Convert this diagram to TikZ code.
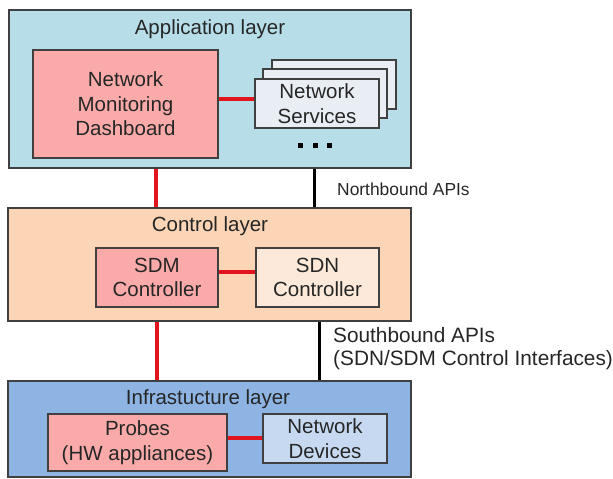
\documentclass[tikz,border=0pt]{standalone}
\usepackage{fontspec}
\setmainfont{Liberation Sans}
\begin{document}
\begin{tikzpicture}[x=1pt,y=-1pt,
  every node/.style={text=black!85, font=\fontsize{20.5}{24.5}\selectfont, inner sep=0pt, align=center},
  box/.style={draw=black!75, line width=1.3pt, rectangle},
  redlink/.style={draw={rgb,255:red,226;green,20;blue,30}, line width=3.8pt},
  blacklink/.style={draw=black, line width=3pt}
]
\definecolor{appfill}{HTML}{B7DEE8}
\definecolor{ctrlfill}{HTML}{FBD5B5}
\definecolor{infrafill}{HTML}{8EB4E3}
\definecolor{pinkfill}{HTML}{FBAAAA}
\definecolor{sdnfill}{HTML}{FDE9D9}
\definecolor{ndfill}{HTML}{C6D9F1}
\definecolor{nsfill}{HTML}{E9EEF5}
\useasboundingbox (0,0) rectangle (613,479);
% layers
\node[box, fill=appfill, minimum width=402pt, minimum height=158pt] (app) at (210,89) {};
\node[box, fill=ctrlfill, minimum width=403pt, minimum height=113pt] (ctrl) at (209.5,264.5) {};
\node[box, fill=infrafill, minimum width=403pt, minimum height=96pt] (infra) at (209.5,429) {};
\node (apptitle) at (210,29) {Application layer};
\node (ctrltitle) at (210,226) {Control layer};
\node (infratitle) at (208,399) {Infrastucture layer};
% application layer contents
\node[box, fill=pinkfill, minimum width=185pt, minimum height=108pt] (dash) at (125.5,104) {Network\\Monitoring\\Dashboard};
\node[box, fill=nsfill, minimum width=124pt, minimum height=49pt] (ns3) at (334,84.5) {};
\node[box, fill=nsfill, minimum width=124pt, minimum height=49pt] (ns2) at (325,93.5) {};
\node[box, fill=nsfill, minimum width=124pt, minimum height=49pt] (ns) at (317,103.5) {Network\\Services};
\foreach \xx/\nm in {300/d1,315/d2,329/d3}
  \node[fill=black, minimum size=5pt] (\nm) at (\xx,145) {};
% control layer contents
\node[box, fill=pinkfill, minimum width=122pt, minimum height=59pt] (sdm) at (157,277.5) {SDM\\Controller};
\node[box, fill=sdnfill, minimum width=123pt, minimum height=59pt] (sdn) at (317.5,277.5) {SDN\\Controller};
% infrastructure contents
\node[box, fill=pinkfill, minimum width=179pt, minimum height=57pt] (probes) at (137.5,442.5) {Probes\\(HW appliances)};
\node[box, fill=ndfill, minimum width=124pt, minimum height=49pt] (nd) at (325,438.5) {Network\\Devices};
% links
\draw[redlink] (dash.east |- 0,99) -- (ns.west |- 0,99);
\draw[redlink] (sdm.east |- 0,272) -- (sdn.west |- 0,272);
\draw[redlink] (probes.east |- 0,438) -- (nd.west |- 0,438);
\draw[redlink] (app.south -| 156,0) -- (ctrl.north -| 156,0);
\draw[blacklink] (app.south -| 314,0) -- (ctrl.north -| 314,0);
\draw[redlink] (ctrl.south -| 157,0) -- (infra.north -| 157,0);
\draw[blacklink] (ctrl.south -| 319,0) -- (infra.north -| 319,0);
% labels
\node[anchor=west, font=\fontsize{17.4}{20}\selectfont] (nb) at (337,189) {Northbound APIs};
\node[anchor=west, align=left, font=\fontsize{20.8}{23}\selectfont] (sb) at (333,348.5) {Southbound APIs\\(SDN/SDM Control Interfaces)};
\end{tikzpicture}
\end{document}
